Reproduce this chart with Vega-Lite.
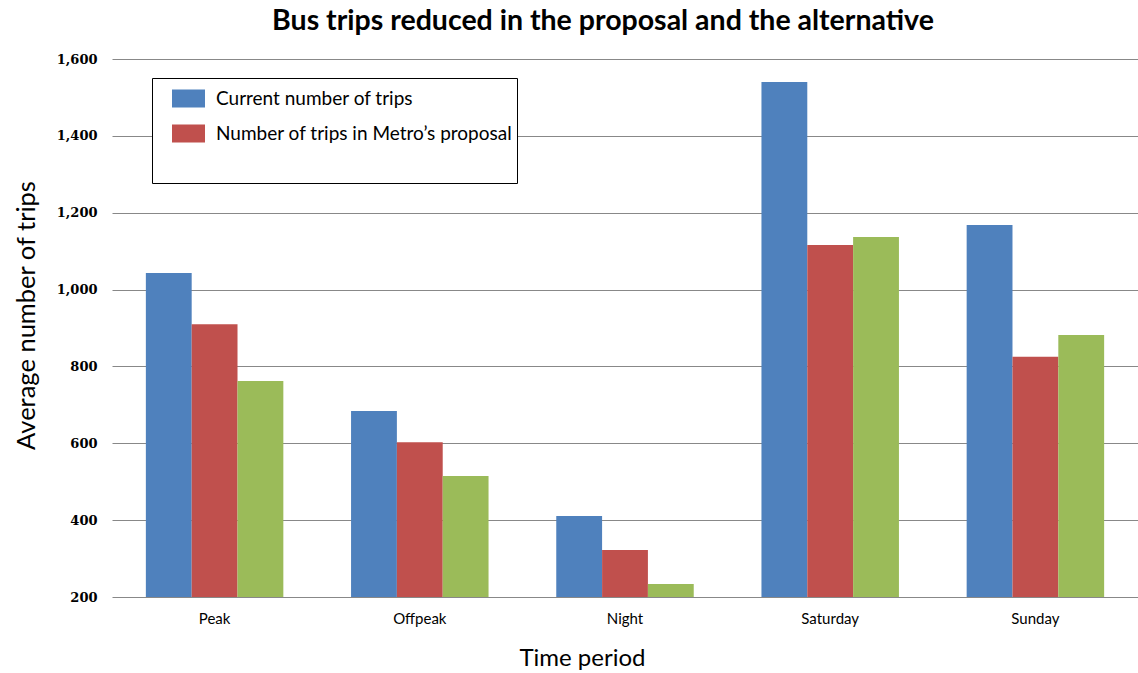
{
  "$schema": "https://vega.github.io/schema/vega-lite/v6.json",
  "autosize": "none",
  "width": 1026,
  "height": 538,
  "padding": {"left": 112, "top": 59, "right": 0, "bottom": 76},
  "background": "white",
  "title": {
    "text": "Bus trips reduced in the proposal and the alternative",
    "font": "Lato",
    "fontSize": 28.5,
    "fontWeight": "bold",
    "color": "black",
    "anchor": "middle",
    "dx": -22,
    "offset": 18
  },
  "data": {
    "values": [
      {"period": "Peak", "series": "Current number of trips", "trips": 1043},
      {"period": "Peak", "series": "Number of trips in Metro’s proposal", "trips": 910},
      {"period": "Peak", "series": "Number of trips in the alternative", "trips": 762},
      {"period": "Offpeak", "series": "Current number of trips", "trips": 684},
      {"period": "Offpeak", "series": "Number of trips in Metro’s proposal", "trips": 603},
      {"period": "Offpeak", "series": "Number of trips in the alternative", "trips": 515},
      {"period": "Night", "series": "Current number of trips", "trips": 411},
      {"period": "Night", "series": "Number of trips in Metro’s proposal", "trips": 322},
      {"period": "Night", "series": "Number of trips in the alternative", "trips": 234},
      {"period": "Saturday", "series": "Current number of trips", "trips": 1540},
      {"period": "Saturday", "series": "Number of trips in Metro’s proposal", "trips": 1116},
      {"period": "Saturday", "series": "Number of trips in the alternative", "trips": 1137},
      {"period": "Sunday", "series": "Current number of trips", "trips": 1168},
      {"period": "Sunday", "series": "Number of trips in Metro’s proposal", "trips": 825},
      {"period": "Sunday", "series": "Number of trips in the alternative", "trips": 882}
    ]
  },
  "mark": {"type": "bar"},
  "encoding": {
    "x": {
      "field": "period",
      "type": "nominal",
      "sort": ["Peak", "Offpeak", "Night", "Saturday", "Sunday"],
      "scale": {"paddingInner": 0.33, "paddingOuter": 0.165},
      "axis": {
        "title": "Time period",
        "titleFont": "Lato",
        "titleFontSize": 24,
        "titleFontWeight": "normal",
        "titleColor": "black",
        "titleX": 470,
        "titleY": 61,
        "titleBaseline": "middle",
        "labelFont": "Lato",
        "labelFontSize": 15,
        "labelColor": "black",
        "labelAngle": 0,
        "labelPadding": 14,
        "ticks": false,
        "domain": false,
        "grid": false
      }
    },
    "xOffset": {
      "field": "series",
      "type": "nominal",
      "sort": ["Current number of trips", "Number of trips in Metro’s proposal", "Number of trips in the alternative"],
      "scale": {"paddingInner": 0, "paddingOuter": 0}
    },
    "y": {
      "field": "trips",
      "type": "quantitative",
      "scale": {"domain": [200, 1600], "zero": false, "nice": false},
      "axis": {
        "title": "Average number of trips",
        "titleFont": "Lato",
        "titleFontSize": 25.5,
        "titleFontWeight": "normal",
        "titleColor": "black",
        "titleX": -73,
        "titleY": 256,
        "labelFont": "DejaVu Serif",
        "labelFontWeight": "bold",
        "labelFontSize": 13,
        "labelColor": "black",
        "labelPadding": 15,
        "values": [200, 400, 600, 800, 1000, 1200, 1400, 1600],
        "format": ",d",
        "ticks": false,
        "domain": false,
        "grid": true,
        "gridColor": "#888888",
        "gridWidth": 1
      }
    },
    "y2": {"datum": 200},
    "color": {
      "field": "series",
      "type": "nominal",
      "sort": ["Current number of trips", "Number of trips in Metro’s proposal", "Number of trips in the alternative"],
      "scale": {"range": ["#4F81BD", "#C0504D", "#9BBB59"]},
      "legend": {
        "title": null,
        "orient": "none",
        "legendX": 40,
        "legendY": 19,
        "direction": "vertical",
        "fillColor": "white",
        "strokeColor": "black",
        "padding": 4,
        "symbolOffset": 16,
        "symbolType": "M-1,-0.55H1V0.55H-1Z",
        "symbolSize": 1089,
        "symbolStrokeWidth": 0,
        "symbolOpacity": 1,
        "labelFont": "Lato",
        "labelFontSize": 19,
        "labelColor": "black",
        "labelOffset": 11,
        "labelLimit": 500,
        "rowPadding": 8,
        "labelExpr": "indexof(datum.label, 'alternative') >= 0 ? '' : datum.label",
        "encode": {
          "symbols": {
            "update": {
              "opacity": {"signal": "indexof(datum.value, 'alternative') >= 0 ? 0 : 1"}
            }
          }
        }
      }
    }
  },
  "config": {
    "view": {"stroke": null},
    "axis": {"gridOpacity": 1}
  }
}
